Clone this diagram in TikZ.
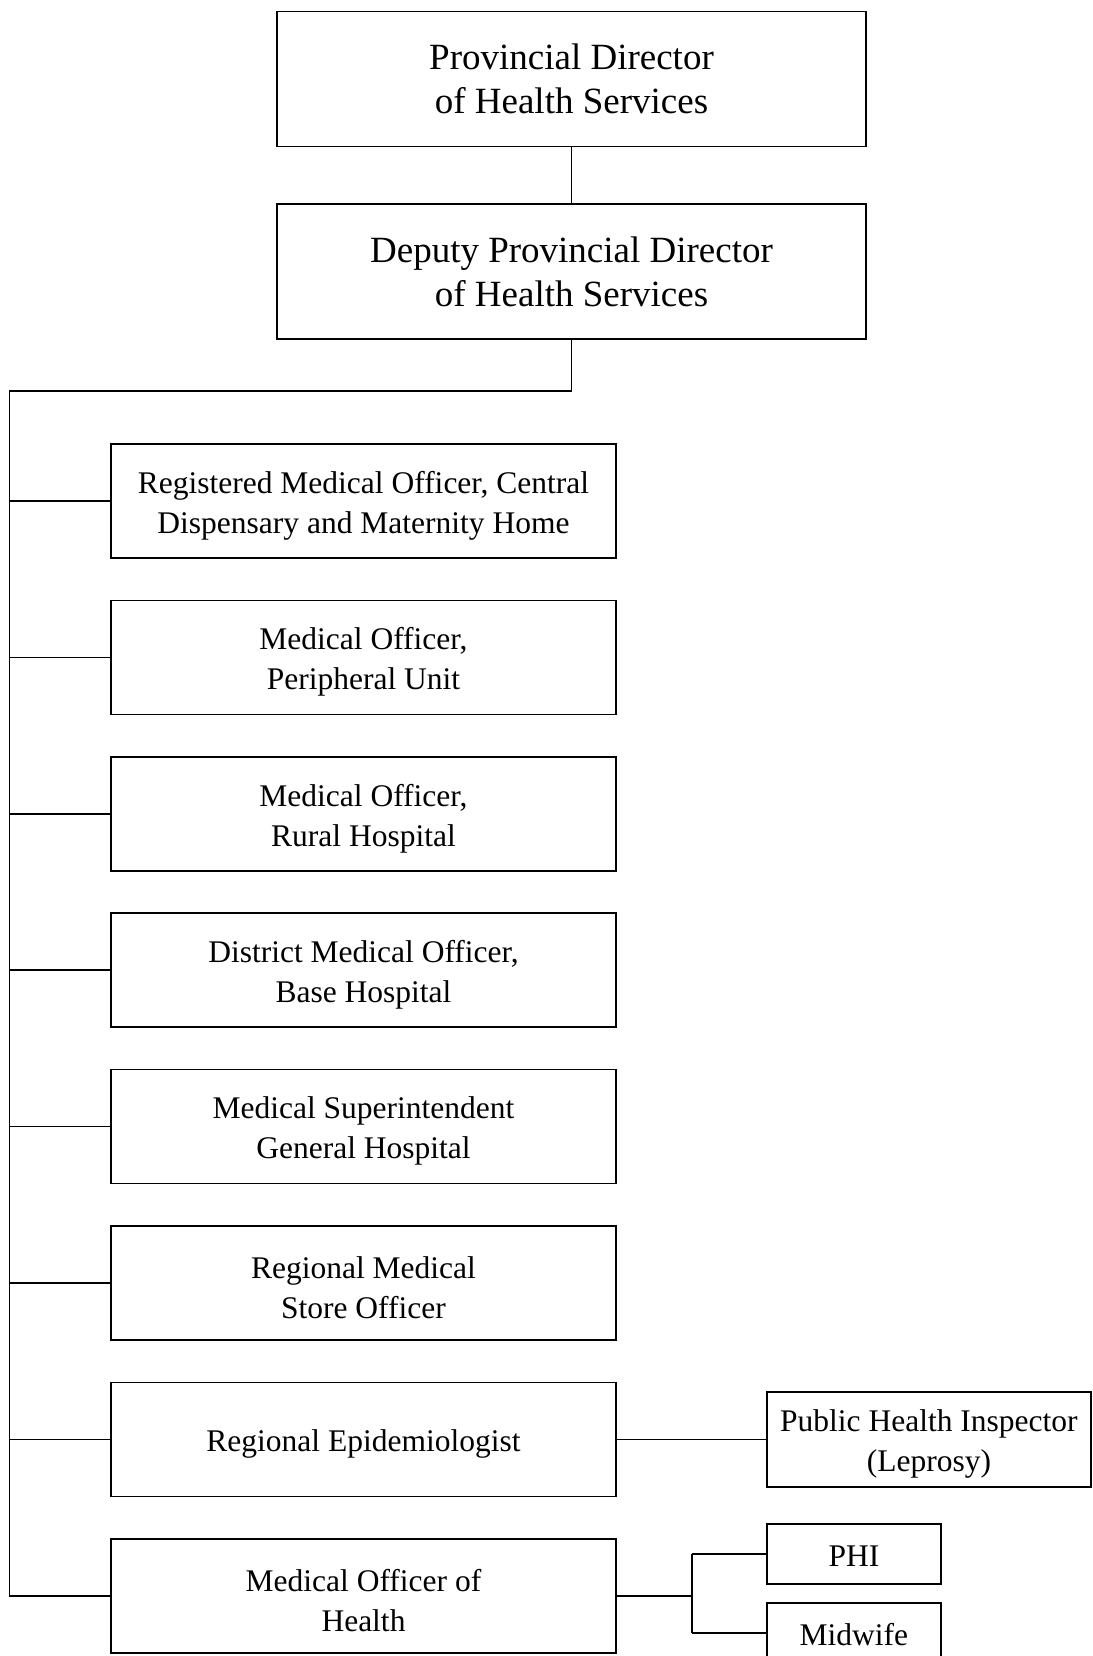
\documentclass[tikz,border=0pt]{standalone}
\usepackage{fontspec}
\setmainfont{Liberation Serif}
\begin{document}
\begin{tikzpicture}[x=1pt,y=-1pt,
  box/.style={draw,line width=1.6pt,rectangle,inner sep=0pt,align=center},
  bigbox/.style={box,minimum width=589pt,minimum height=135pt,font=\fontsize{37}{44}\selectfont},
  txt/.style={align=center,inner sep=0pt,font=\fontsize{31.5}{40}\selectfont,yshift=-4.5pt},
  unitbox/.style={box,minimum width=505pt,minimum height=114pt},
  smallbox/.style={box,font=\fontsize{31.5}{40}\selectfont},
  conn/.style={line width=1.6pt}]
\useasboundingbox (0,0) rectangle (1092,1656);
\node[bigbox] (pd) at (571.5,79.2) {Provincial Director\\of Health Services};
\node[bigbox] (dpd) at (571.5,271.4) {Deputy Provincial Director\\of Health Services};
\node[unitbox,label={[txt]center:{Registered Medical Officer, Central\\Dispensary and Maternity Home}}] (b1) at (363.5,501) {};
\node[unitbox,label={[txt]center:{Medical Officer,\\Peripheral Unit}}] (b2) at (363.5,657.4) {};
\node[unitbox,label={[txt]center:{Medical Officer,\\Rural Hospital}}] (b3) at (363.5,813.8) {};
\node[unitbox,label={[txt]center:{District Medical Officer,\\Base Hospital}}] (b4) at (363.5,970.2) {};
\node[unitbox,label={[txt]center:{Medical Superintendent\\General Hospital}}] (b5) at (363.5,1126.6) {};
\node[unitbox,label={[txt]center:{Regional Medical\\Store Officer}}] (b6) at (363.5,1283) {};
\node[unitbox,label={[txt]center:{Regional Epidemiologist}}] (b7) at (363.5,1439.4) {};
\node[unitbox,label={[txt]center:{Medical Officer of\\Health}}] (b8) at (363.5,1595.8) {};
\node[box,minimum width=324pt,minimum height=95pt,label={[txt]center:{Public Health Inspector\\(Leprosy)}}] (phil) at (928.9,1439.4) {};
\node[box,minimum width=174pt,minimum height=60pt,label={[txt,yshift=2pt]center:{PHI}}] (phi) at (853.9,1554) {};
\node[box,minimum width=174pt,minimum height=60pt,label={[txt,yshift=2.5pt]center:{Midwife}}] (mw) at (853.9,1633) {};
\coordinate (jn) at (571.5,390.8);
\coordinate (sp) at (9.5,390.8);
\coordinate (br) at (691.7,1595.8);
\draw[conn] (pd.south) -- (dpd.north);
\draw[conn] (dpd.south) -- (jn) -- (sp) |- (b8.west);
\foreach \b in {b1,b2,b3,b4,b5,b6,b7} \draw[conn] (sp |- \b.west) -- (\b.west);
\draw[conn] (b7.east) -- (phil.west);
\draw[conn] (b8.east) -- (br);
\draw[conn] (br |- phi.west) -- (phi.west);
\draw[conn] (br |- mw.west) -- (mw.west);
\draw[conn] (br |- phi.west) -- (br |- mw.west);
\end{tikzpicture}
\end{document}
